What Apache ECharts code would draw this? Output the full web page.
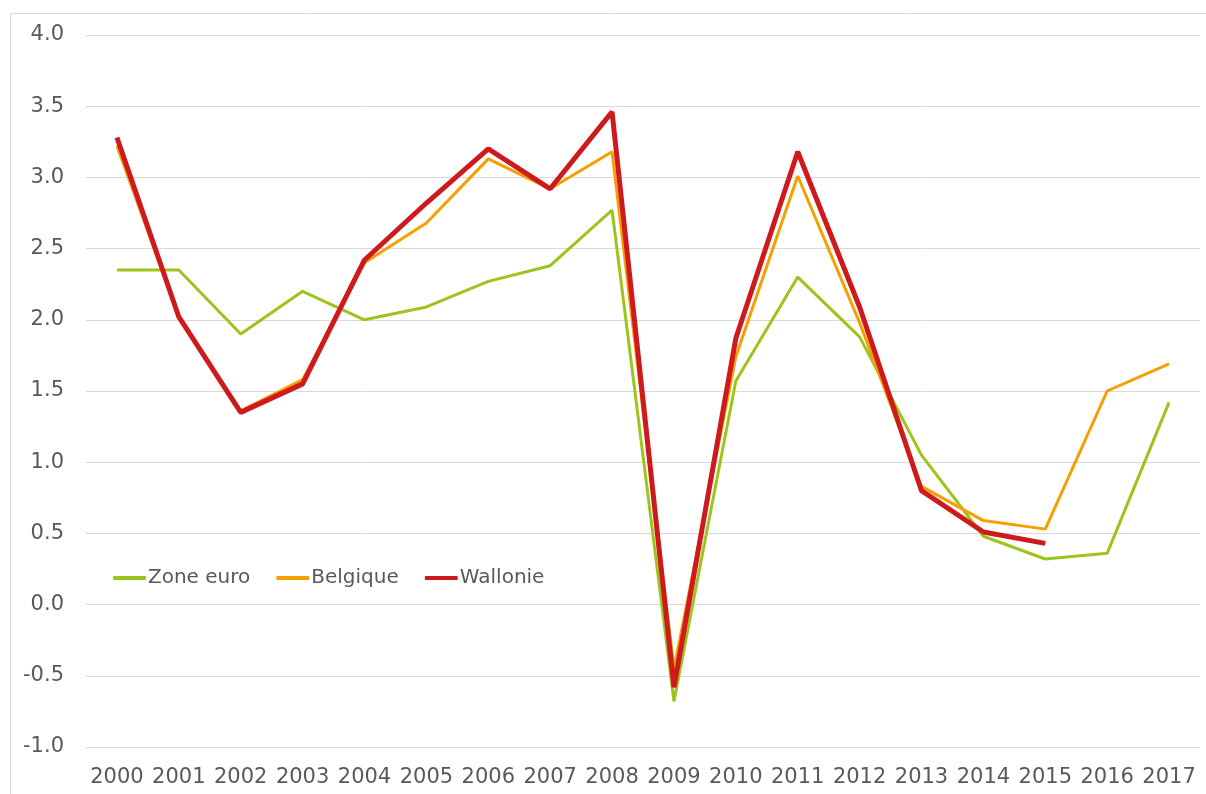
<!DOCTYPE html>
<html>
<head>
<meta charset="utf-8">
<script src="https://cdn.jsdelivr.net/npm/echarts@6/dist/echarts.min.js"></script>
<style>
html,body{margin:0;padding:0;background:#fff;}
#chart{width:1206px;height:794px;}
</style>
</head>
<body>
<div id="chart"></div>
<script>
const years = ['2000','2001','2002','2003','2004','2005','2006','2007','2008','2009','2010','2011','2012','2013','2014','2015','2016','2017'];
const zoneEuro = [2.35, 2.35, 1.90, 2.20, 2.00, 2.09, 2.27, 2.38, 2.77, -0.68, 1.57, 2.30, 1.88, 1.05, 0.48, 0.32, 0.36, 1.42];
const belgique = [3.22, 2.02, 1.36, 1.58, 2.40, 2.68, 3.13, 2.92, 3.18, -0.45, 1.74, 3.01, 1.98, 0.83, 0.59, 0.53, 1.50, 1.69];
const wallonie = [3.28, 2.02, 1.35, 1.55, 2.42, 2.82, 3.20, 2.92, 3.46, -0.58, 1.87, 3.18, 2.09, 0.80, 0.51, 0.43, null, null];
const seriesNames = ['Zone euro', 'Belgique', 'Wallonie'];

const textColor = '#595959';
const font = 'DejaVu Sans';
const chart = echarts.init(document.getElementById('chart'), null, {renderer: 'canvas'});
chart.setOption({
  animation: false,
  backgroundColor: '#fff',
  graphic: [{
    type: 'rect', x: 10.5, y: 13.5, z: -1, silent: true,
    shape: {x: 0, y: 0, width: 1300, height: 900},
    style: {fill: 'none', stroke: '#d9d9d9', lineWidth: 1}
  }],
  grid: {left: 86, right: 6, top: 35, bottom: 47, containLabel: false},
  legend: {
    left: 108, top: 563,
    icon: 'roundRect',
    itemWidth: 33, itemHeight: 4, itemGap: 26,
    textStyle: {fontFamily: font, fontSize: 20, color: textColor, padding: [0, 0, 0, -3]},
    data: seriesNames
  },
  xAxis: {
    type: 'category', data: years, boundaryGap: true,
    axisLine: {show: false}, axisTick: {show: false},
    axisLabel: {interval: 0, fontFamily: font, fontSize: 21, color: textColor, margin: 20}
  },
  yAxis: {
    type: 'value', min: -1, max: 4, interval: 0.5,
    axisLine: {show: false}, axisTick: {show: false},
    axisLabel: {fontFamily: font, fontSize: 21, color: textColor, margin: 22,
      formatter: v => v.toFixed(1)},
    splitLine: {lineStyle: {color: '#d9d9d9', width: 1}}
  },
  series: [
    {name: seriesNames[0], type: 'line', data: zoneEuro, symbol: 'none',
      lineStyle: {color: '#9CC51B', width: 3}, itemStyle: {color: '#9CC51B'}},
    {name: seriesNames[1], type: 'line', data: belgique, symbol: 'none',
      lineStyle: {color: '#F5A000', width: 3}, itemStyle: {color: '#F5A000'}},
    {name: seriesNames[2], type: 'line', data: wallonie, symbol: 'none',
      lineStyle: {color: '#CE1A1C', width: 5}, itemStyle: {color: '#CE1A1C'}}
  ]
});
</script>
</body>
</html>
